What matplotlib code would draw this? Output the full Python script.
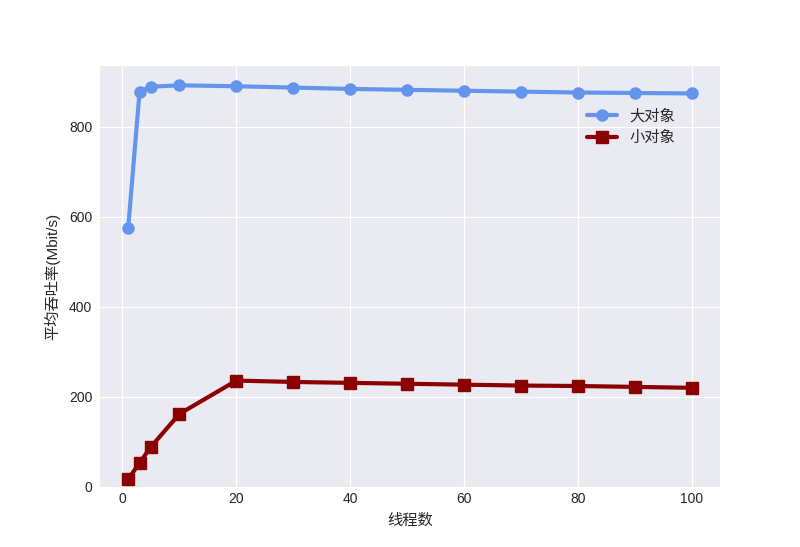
import matplotlib
matplotlib.use("Agg")
import matplotlib.pyplot as plt

# thread counts and throughput (Mbit/s)
threads = [1, 3, 5, 10, 20, 30, 40, 50, 60, 70, 80, 90, 100]
big_obj = [575, 878, 889, 892, 890, 887, 884, 882, 880, 878, 876, 875, 874]
small_obj = [17, 53, 89, 162, 236, 233, 231, 229, 227, 225, 224, 222, 220]

plt.style.use("seaborn-v0_8-darkgrid")
plt.rcParams["font.family"] = ["Liberation Sans", "Noto Sans CJK SC"]
plt.rcParams["axes.unicode_minus"] = False

fig, ax = plt.subplots(figsize=(8, 5.47), dpi=100)

ax.plot(threads, big_obj, "-o", color="cornflowerblue", lw=3, markersize=8, label="大对象")
ax.plot(threads, small_obj, "-s", color="darkred", lw=3, markersize=8, label="小对象")

ax.set_ylim(bottom=0)
ax.tick_params(axis="y", pad=plt.rcParams["ytick.major.pad"] + 2)
ax.set_xlabel("线程数", fontsize=11, labelpad=6)
ax.set_ylabel("平均吞吐率(Mbit/s)", fontsize=11, labelpad=6)
ax.legend(loc="upper right", bbox_to_anchor=(0.95, 0.93), fontsize=11)

fig.savefig("out.png", dpi=100)
